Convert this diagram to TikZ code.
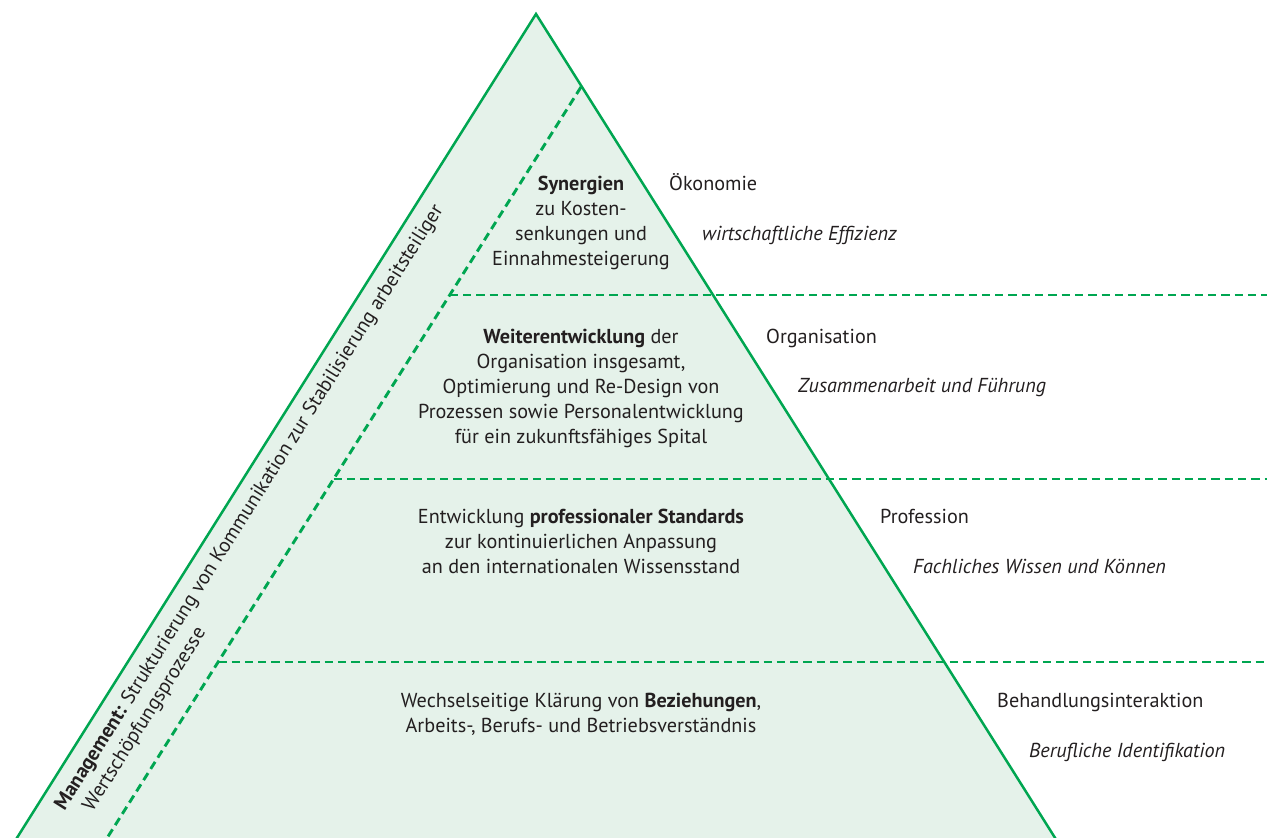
\documentclass[tikz,border=0pt]{standalone}
\usepackage{fontspec}
\setmainfont{PT Sans}
\definecolor{pgreen}{HTML}{00A651}
\definecolor{pfill}{HTML}{E5F2EA}
\definecolor{ptext}{HTML}{231F20}
\begin{document}
\begin{tikzpicture}[x=1pt,y=-1pt,
  every node/.style={inner sep=0pt, text=ptext, font=\fontsize{20.2}{25}\selectfont},
  edge/.style={draw=pgreen, line width=2.5pt},
  sep/.style={draw=pgreen, line width=2.9pt, dash pattern=on 8.3pt off 5pt},
  blk/.style={align=center, anchor=base},
  lab/.style={anchor=base west},
  sub/.style={anchor=base west, font=\fontsize{20.2}{25}\selectfont\itshape},
  rot/.style={anchor=base west, rotate=57.8}]
\useasboundingbox (0,0) rectangle (1267,838);
\clip (0,0) rectangle (1267,838);
% triangle
\coordinate (apex) at (536,14);
\coordinate (bl) at (9.3,850);
\coordinate (br) at (1062.7,850);
\fill[pfill] (apex) -- (bl) -- (br) -- cycle;
\draw[edge] (bl) -- (apex) -- (br);
% inner dashed line
\coordinate (itop) at (581,87);
\coordinate (ibot) at (99.5,850);
\draw[sep] (itop) -- (ibot);
% horizontal separators
\coordinate (s1) at (449.8,295);
\coordinate (e1) at (1267,295);
\coordinate (s2) at (333.6,479);
\coordinate (e2) at (1267,479);
\coordinate (s3) at (218.2,662);
\coordinate (e3) at (1267,662);
\draw[sep] (s1) -- (e1);
\draw[sep] (s2) -- (e2);
\draw[sep] (s3) -- (e3);
% level texts (anchor = baseline of last line)
\node[blk] (t1) at (581,265) {\textbf{Synergien}\\zu Kosten-\\senkungen und\\Einnahmesteigerung};
\node[blk] (t2) at (581,443) {\textbf{Weiterentwicklung} der\\Organisation insgesamt,\\Optimierung und Re-Design von\\Prozessen sowie Personalentwicklung\\für ein zukunftsfähiges Spital};
\node[blk] (t3) at (581,573) {Entwicklung \textbf{professionaler Standards}\\zur kontinuierlichen Anpassung\\an den internationalen Wissensstand};
\node[blk] (t4) at (581,732) {Wechselseitige Klärung von \textbf{Beziehungen},\\Arbeits-, Berufs- und Betriebsverständnis};
% right labels
\node[lab] (l1) at (669,190) {Ökonomie};
\node[sub] (m1) at (702,240) {wirtschaftliche Effizienz};
\node[lab] (l2) at (766,343) {Organisation};
\node[sub] (m2) at (798,392) {Zusammenarbeit und Führung};
\node[lab] (l3) at (880,523) {Profession};
\node[sub] (m3) at (913,573) {Fachliches Wissen und Können};
\node[lab] (l4) at (997,707) {Behandlungsinteraktion};
\node[sub] (m4) at (1029,757) {Berufliche Identifikation};
% rotated management text
\node[rot] (r1) at (64.4,811.6) {\textbf{Management:} Strukturierung von Kommunikation zur Stabilisierung arbeitsteiliger};
\node[rot] (r2) at (92.5,812.6) {Wertschöpfungsprozesse};
\end{tikzpicture}
\end{document}
